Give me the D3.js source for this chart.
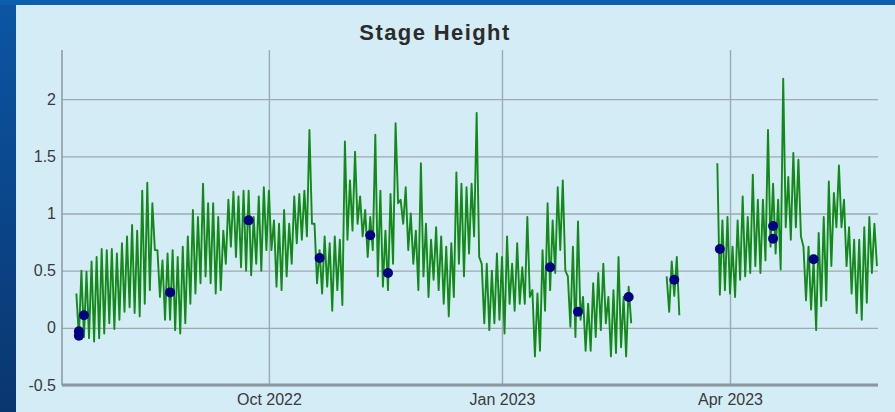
<!DOCTYPE html>
<html>
<head>
<meta charset="utf-8">
<script src="https://cdn.jsdelivr.net/npm/d3@7"></script>
<style>
  html, body { margin: 0; padding: 0; background: #0a3f7c; }
  svg { display: block; }
</style>
</head>
<body>
<div id="chart"></div>
<script>
// ---- data ----
var titleText = "Stage Height";
var yTicks = [-0.5, 0, 0.5, 1, 1.5, 2];
var xTickDates = ["2022-10-01", "2023-01-01", "2023-04-01"];

// manual readings (dots)
var dotDates = ["2022-07-18", "2022-07-18", "2022-07-20", "2022-08-23", "2022-09-23",
  "2022-10-21", "2022-11-10", "2022-11-17", "2023-01-20", "2023-01-31",
  "2023-02-20", "2023-03-10", "2023-03-28", "2023-04-18", "2023-04-18", "2023-05-04"];
var dotValues = [-0.03, -0.07, 0.11, 0.31, 0.94, 0.61, 0.81, 0.48, 0.53, 0.14,
  0.27, 0.42, 0.69, 0.89, 0.78, 0.60];

// logger series, stored as tidal high / low pairs (high on day 2k, low on day 2k+1)
var segStartA = "2022-07-17";
var highA = [0.30, 0.50, 0.49, 0.58, 0.62, 0.69, 0.68, 0.69, 0.65, 0.74, 0.80, 0.90, 0.85, 1.20, 1.27, 1.09, 0.68, 0.59, 0.65, 0.68,
  0.62, 0.71, 0.80, 1.03, 0.97, 1.26, 1.09, 1.09, 0.97, 0.85, 1.12, 1.19, 1.15, 1.20, 1.20, 0.97, 1.15, 1.23,
  1.20, 0.94, 0.91, 1.03, 0.91, 1.15, 1.17, 1.20, 1.73, 0.91, 0.68, 0.80, 0.74, 0.80, 0.77, 1.63, 1.29, 1.54, 1.15, 1.03,
  0.97, 1.69, 1.20, 0.85, 1.17, 1.79, 1.12, 1.23, 1.00, 0.85, 1.44, 0.91, 0.77, 0.88, 0.80, 0.71, 0.74, 1.36, 1.26,
  1.23, 1.26, 1.88, 0.56, 0.56, 0.50, 0.65, 0.62, 0.80, 0.56, 0.74, 0.53, 0.97, 0.33, 0.30, 0.68, 1.09, 0.94, 1.23, 1.29,
  0.45, 0.71, 0.93, 0.27, 0.21, 0.39, 0.48, 0.56, 0.27, 0.33, 0.62, 0.27, 0.36];
var lowA = [-0.08, -0.08, -0.09, -0.12, -0.09, -0.05, 0.04, -0.01, 0.07, 0.14, 0.18, 0.13, 0.10, 0.21, 0.33, 0.68, 0.27, 0.07, 0.07, -0.02,
  -0.05, 0.04, 0.21, 0.30, 0.39, 0.45, 0.39, 0.30, 0.33, 0.56, 0.71, 0.62, 0.53, 0.50, 0.46, 0.56, 0.50, 0.68,
  0.68, 0.36, 0.33, 0.45, 0.56, 0.74, 0.77, 0.80, 0.91, 0.39, 0.30, 0.36, 0.15, 0.33, 0.20, 0.77, 0.85, 0.91, 0.80, 0.62,
  0.68, 0.45, 0.36, 0.33, 0.56, 1.09, 0.91, 0.68, 0.56, 0.33, 0.45, 0.27, 0.42, 0.33, 0.21, 0.10, 0.27, 0.56, 0.45,
  0.65, 0.80, 0.62, 0.04, -0.02, 0.04, 0.07, -0.05, 0.21, 0.15, 0.21, 0.21, 0.27, -0.25, -0.20, 0.15, 0.33, 0.48, 0.68, 0.50,
  0.01, -0.08, 0.07, -0.20, -0.20, -0.08, -0.02, 0.04, -0.25, -0.22, -0.17, -0.25, 0.04];

var segStartB = "2023-03-07";
var highB = [0.45, 0.58, 0.62];
var lowB = [0.14, 0.28, 0.11];

var segStartC = "2023-03-27";
var highC = [1.44, 0.94, 0.97, 0.71, 0.94, 1.15, 0.97, 1.34, 1.12, 1.12, 1.73, 1.26, 1.12, 2.18, 1.32, 1.53,
  1.47, 0.71, 0.71, 0.59, 0.83, 0.97, 1.28, 1.18, 1.42, 1.12, 0.88, 0.77, 0.77, 0.88, 0.97, 0.91];
var lowC = [0.29, 0.33, 0.30, 0.27, 0.42, 0.45, 0.48, 0.54, 0.48, 0.59, 0.71, 0.65, 0.51, 0.88, 0.77, 0.88,
  0.80, 0.24, 0.16, -0.02, 0.19, 0.24, 0.54, 0.88, 0.88, 0.54, 0.30, 0.13, 0.07, 0.22, 0.48, 0.54];

// ---- layout ----
var W = 895, H = 412;
var plotL = 62, plotR = 878, plotT = 50, plotB = 385;

var parseDay = d3.utcParse("%Y-%m-%d");

function buildSegment(start, highs, lows) {
  var t0 = parseDay(start);
  var pts = [];
  for (var k = 0; k < highs.length; k++) {
    pts.push({ date: d3.utcDay.offset(t0, 2 * k), value: highs[k] });
    pts.push({ date: d3.utcDay.offset(t0, 2 * k + 1), value: lows[k] });
  }
  return pts;
}

var segments = [
  buildSegment(segStartA, highA, lowA),
  buildSegment(segStartB, highB, lowB),
  buildSegment(segStartC, highC, lowC)
];

var dots = dotDates.map(function(d, i) {
  return { date: parseDay(d), value: dotValues[i] };
});

var svg = d3.select("#chart").append("svg")
  .attr("width", W)
  .attr("height", H);

// frame background
var defs = svg.append("defs");
var grad = defs.append("linearGradient")
  .attr("id", "frameGrad")
  .attr("x1", 0).attr("y1", 0).attr("x2", 0).attr("y2", 1);
grad.append("stop").attr("offset", "0%").attr("stop-color", "#0b56a4");
grad.append("stop").attr("offset", "100%").attr("stop-color", "#0a3670");

svg.append("rect")
  .attr("width", W).attr("height", H)
  .style("fill", "url(#frameGrad)");

svg.append("rect")
  .attr("x", 0).attr("y", 0).attr("width", W).attr("height", 5)
  .style("fill", "#0b5fae");

svg.append("rect")
  .attr("x", 16).attr("y", 5)
  .attr("width", W - 16).attr("height", H - 5)
  .style("fill", "#d3ecf6");

// scales
var x = d3.scaleUtc()
  .domain([new Date("2022-07-11T08:00:00Z"), new Date("2023-05-29T10:00:00Z")])
  .range([plotL, plotR]);

var y = d3.scaleLinear()
  .domain([-0.5, 2.43])
  .range([plotB, plotT]);

// y grid + labels
var yAxis = d3.axisLeft(y)
  .tickValues(yTicks)
  .tickSize(-(plotR - plotL))
  .tickPadding(6)
  .tickFormat(function(d) { return String(d); });

var gy = svg.append("g")
  .attr("class", "axis axis--y")
  .attr("transform", "translate(" + plotL + ",0)")
  .call(yAxis);
gy.select(".domain").remove();
gy.selectAll(".tick line")
  .attr("stroke", "#9ea9b0")
  .attr("stroke-width", 1.4);
gy.selectAll(".tick text")
  .attr("fill", "#3a3a3a")
  .style("font-family", "'Liberation Sans', Arial, sans-serif")
  .style("font-size", "16px");

// x grid + labels
var xAxis = d3.axisBottom(x)
  .tickValues(xTickDates.map(parseDay))
  .tickSize(-(plotB - plotT))
  .tickPadding(9)
  .tickFormat(d3.utcFormat("%b %Y"));

var gx = svg.append("g")
  .attr("class", "axis axis--x")
  .attr("transform", "translate(0," + plotB + ")")
  .call(xAxis);
gx.select(".domain").remove();
gx.selectAll(".tick line")
  .attr("stroke", "#9ea9b0")
  .attr("stroke-width", 1.4);
gx.selectAll(".tick text")
  .attr("fill", "#3a3a3a")
  .style("font-family", "'Liberation Sans', Arial, sans-serif")
  .style("font-size", "16px");

// axis lines
svg.append("line")
  .attr("x1", plotL).attr("x2", plotL)
  .attr("y1", plotT).attr("y2", plotB)
  .attr("stroke", "#8c979e")
  .attr("stroke-width", 1.5);

svg.append("line")
  .attr("x1", plotL).attr("x2", plotR)
  .attr("y1", plotB).attr("y2", plotB)
  .attr("stroke", "#8c979e")
  .attr("stroke-width", 3);

// logger line
var line = d3.line()
  .x(function(d) { return x(d.date); })
  .y(function(d) { return y(d.value); });

svg.append("g")
  .selectAll("path")
  .data(segments)
  .enter().append("path")
  .attr("class", "line")
  .attr("d", line)
  .attr("fill", "none")
  .attr("stroke", "#13891a")
  .attr("stroke-width", 1.9)
  .attr("stroke-linejoin", "round");

// manual readings
svg.append("g")
  .selectAll("circle")
  .data(dots)
  .enter().append("circle")
  .attr("cx", function(d) { return x(d.date); })
  .attr("cy", function(d) { return y(d.value); })
  .attr("r", 5)
  .style("fill", "#000080");

// title
svg.append("text")
  .attr("x", 435)
  .attr("y", 40)
  .attr("text-anchor", "middle")
  .style("font-family", "'Liberation Sans', Arial, sans-serif")
  .style("font-weight", "bold")
  .style("font-size", "22px")
  .style("letter-spacing", "1.4px")
  .attr("fill", "#2b2b2b")
  .text(titleText);
</script>
</body>
</html>
